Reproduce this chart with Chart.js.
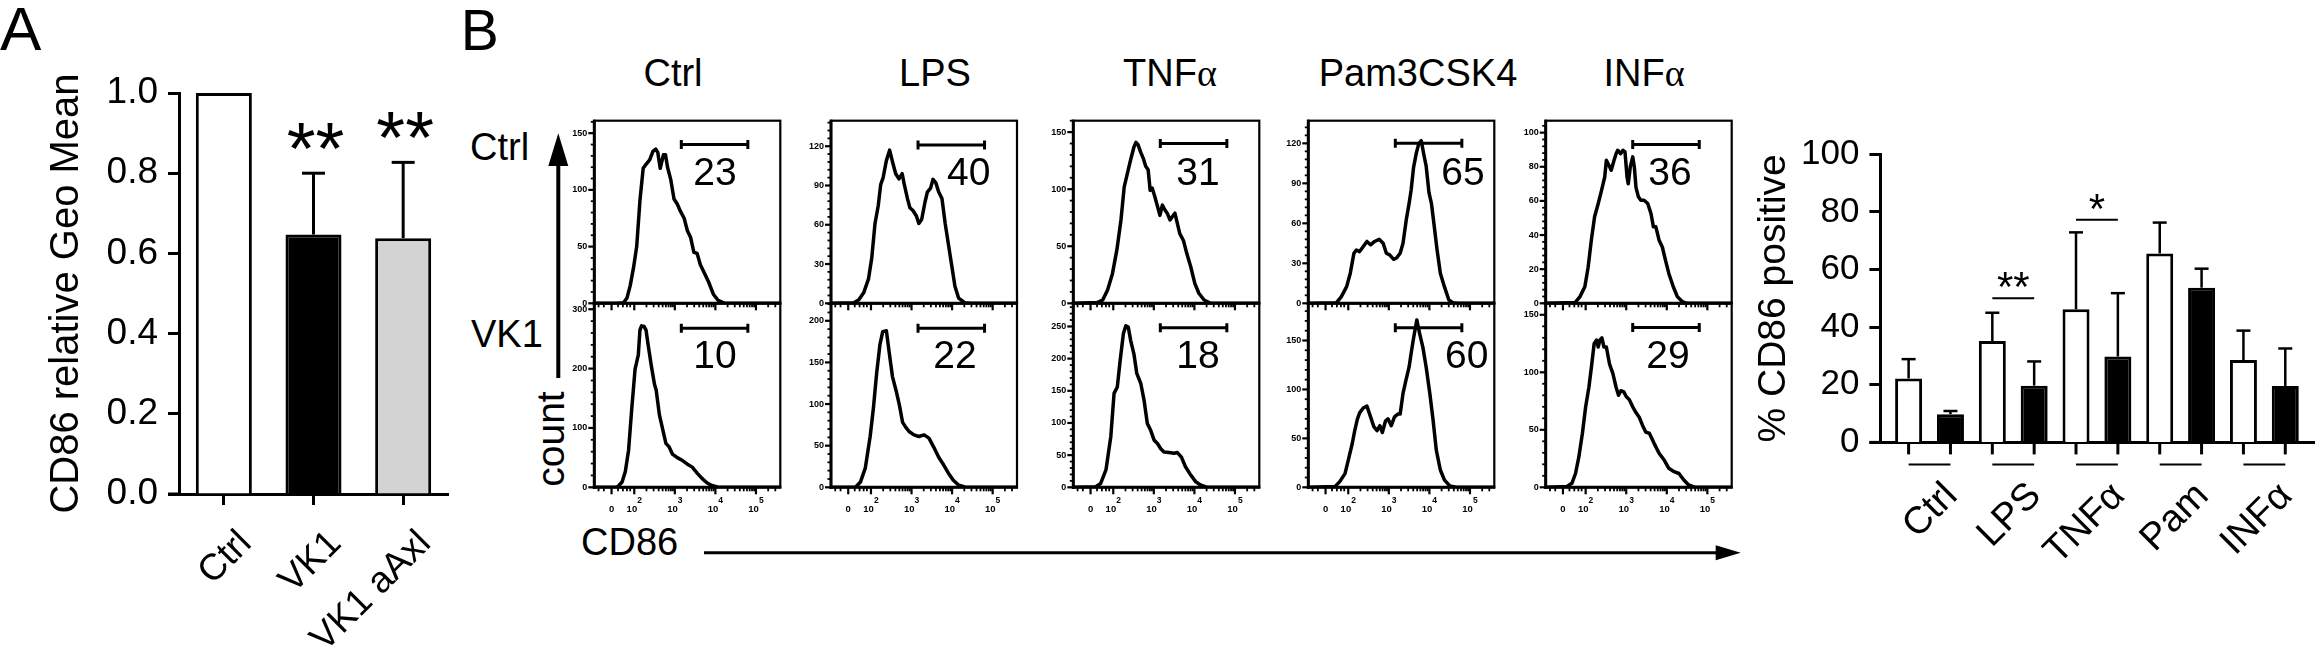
<!DOCTYPE html>
<html><head><meta charset="utf-8">
<script src="https://cdn.jsdelivr.net/npm/chart.js@4.4.1/dist/chart.umd.min.js"></script>
<style>
html,body{margin:0;padding:0;background:#fff;}
#root{position:relative;width:2315px;height:649px;overflow:hidden;background:#fff;font-family:'Liberation Sans',Arial,Helvetica,sans-serif;color:#000;}
canvas{position:absolute;}
.t{position:absolute;white-space:nowrap;line-height:1;}
.g{font-family:'Liberation Serif','Times New Roman',serif;}
</style></head><body><div id="root"></div>
<script>
// ---------- Panel A data ----------
const catsA = ['Ctrl', 'VK1', 'VK1 aAxl'];
const meanA = [1.0, 0.647, 0.638];
const sdA = [0, 0.153, 0.189];
const sigA = ['', '**', '**'];

// ---------- Panel B bar data ----------
const catsB = ['Ctrl', 'LPS', 'TNFα', 'Pam', 'INFα'];
const ctrlB = [22.2, 35.2, 46.2, 65.6, 28.6];
const ctrlErrB = [6.7, 9.8, 26.7, 10.7, 10.2];
const vk1B = [9.8, 19.7, 29.8, 53.7, 19.6];
const vk1ErrB = [1.1, 8.4, 22.0, 6.6, 13.0];
const sigB = [{group: 1, label: '**', y: 50}, {group: 2, label: '*', y: 77.3}];

// ---------- Panel B histograms (x = log10 CD86 display units, y = count) ----------
const stimuli = ['Ctrl', 'LPS', 'TNFα', 'Pam3CSK4', 'INFα'];
const rowNames = ['Ctrl', 'VK1'];
const gateRange = [3.16, 4.8];
const gatePctCtrl = [23, 40, 31, 65, 36];
const gatePctVK1 = [10, 22, 18, 60, 29];
const gateYCtrl = [140, 121, 140, 120, 93];
const gateYVK1 = [268, 191, 248, 163, 139];
const yMaxCtrl = [161, 139.5, 160, 137, 107];
const yMaxVK1 = [310, 221, 286, 188, 160];
const yStepCtrl = [50, 30, 50, 30, 20];
const yStepVK1 = [100, 50, 50, 50, 50];
const histXMajor = [1.44, 2, 3, 4, 5];
const histXLabels = ['0', '10', '10', '10', '10'];
const histXSup = ['', '2', '3', '4', '5'];

const histCtrlCtrl = [[1.0,0],[1.58,0],[1.74,0.6],[1.82,4.7],[1.90,15.6],[1.98,31],[2.06,50],[2.14,90.6],[2.22,119],[2.30,123],[2.38,126.5],[2.46,134],[2.53,136],[2.58,133],[2.64,119],[2.72,131],[2.77,131],[2.82,120],[2.90,109],[2.98,92],[3.06,87.5],[3.14,81],[3.23,75],[3.31,64],[3.39,58],[3.47,45],[3.55,44],[3.63,34],[3.71,28],[3.83,19],[3.95,8],[4.07,2.5],[4.23,0],[5.6,0]];
const histCtrlVK1 = [[1.0,0],[1.58,0],[1.70,8.9],[1.78,26.8],[1.86,62.5],[1.94,134],[2.02,199],[2.10,223],[2.14,265],[2.18,272],[2.24,271],[2.29,265],[2.34,241],[2.42,205],[2.50,173],[2.54,164],[2.62,122],[2.70,98],[2.78,74],[2.86,68],[2.94,56],[3.06,50],[3.19,45],[3.31,39],[3.43,34],[3.55,24],[3.67,15],[3.79,7.7],[3.91,3],[4.07,0],[5.6,0]];
const histLPSCtrl = [[1.0,0],[1.58,0.5],[1.70,2.7],[1.82,8],[1.94,18.7],[2.02,34.7],[2.10,61],[2.18,74.7],[2.24,90.7],[2.30,96],[2.38,109],[2.46,117],[2.54,107],[2.61,99],[2.69,95],[2.77,99],[2.82,91],[2.90,80],[2.96,73],[3.04,70.7],[3.12,66.7],[3.18,61],[3.25,64],[3.33,77],[3.39,85],[3.47,88],[3.53,94.7],[3.60,92],[3.67,85],[3.75,80],[3.83,61],[3.91,45],[3.99,29],[4.07,13],[4.16,4],[4.31,0.5],[4.47,0],[5.6,0]];
const histLPSVK1 = [[1.0,0],[1.62,0],[1.74,6.3],[1.86,23],[1.98,61],[2.06,95],[2.14,137],[2.22,171],[2.29,187],[2.38,188],[2.45,162],[2.53,133],[2.62,116],[2.70,99],[2.78,78],[2.86,72],[2.94,67],[3.06,63],[3.18,61],[3.31,63],[3.43,59],[3.55,48],[3.67,36],[3.79,27],[3.91,17],[4.03,8.4],[4.15,3],[4.35,0],[5.6,0]];
const histTNFCtrl = [[1.0,0],[1.60,0.6],[1.74,2.9],[1.86,11.7],[1.98,26],[2.09,47],[2.19,73],[2.27,102],[2.35,114],[2.43,126],[2.51,137],[2.56,141],[2.61,139],[2.68,132],[2.74,127],[2.80,120],[2.86,117],[2.91,99],[2.96,101],[3.02,94],[3.09,85],[3.15,77],[3.21,86],[3.27,82],[3.33,79],[3.40,73],[3.46,76],[3.52,79],[3.58,70],[3.64,61],[3.73,55],[3.81,44],[3.91,32],[4.01,17.5],[4.11,8.8],[4.24,2.9],[4.40,0],[5.6,0]];
const histTNFVK1 = [[1.0,0],[1.57,1],[1.69,6],[1.82,27],[1.94,79],[2.02,146],[2.10,156],[2.17,197],[2.25,239],[2.31,251],[2.37,249],[2.43,228],[2.51,207],[2.58,177],[2.68,161],[2.76,135],[2.84,99],[2.92,89],[3.01,73],[3.09,68],[3.17,60],[3.25,55],[3.37,54],[3.50,53],[3.58,54],[3.68,47],[3.78,32],[3.91,19],[4.03,8.8],[4.15,3.6],[4.32,0],[5.6,0]];
const histPamCtrl = [[1.0,0],[1.71,0.5],[1.83,5],[1.96,12.5],[2.05,22.6],[2.14,37.6],[2.20,40],[2.28,38.8],[2.37,42.6],[2.46,46.4],[2.55,43.9],[2.65,46.4],[2.76,48],[2.86,45],[2.94,37.6],[3.02,36.3],[3.12,33],[3.19,34],[3.28,37.6],[3.35,45],[3.43,62.7],[3.50,75],[3.55,85],[3.61,102],[3.68,113],[3.74,120],[3.80,122],[3.86,112],[3.92,103],[3.99,83],[4.05,75],[4.10,62.7],[4.19,40],[4.27,22.6],[4.37,12.5],[4.48,2.5],[4.58,0.5],[4.70,0],[5.6,0]];
const histPamVK1 = [[1.0,0],[1.67,0.7],[1.79,5.8],[1.92,14],[2.02,31],[2.10,45],[2.16,58],[2.22,69],[2.28,76],[2.37,81],[2.46,83],[2.55,72],[2.63,62],[2.71,58],[2.78,63],[2.84,56],[2.92,68],[2.98,70],[3.06,63],[3.14,72],[3.23,75],[3.28,75],[3.35,96],[3.42,109],[3.50,123],[3.55,137],[3.60,150],[3.66,164],[3.69,171],[3.76,157],[3.84,143],[3.92,123],[4.01,96],[4.09,69],[4.17,38],[4.27,17.7],[4.37,7.5],[4.50,1.4],[4.66,0],[5.6,0]];
const histINFCtrl = [[1.0,0],[1.74,0.4],[1.86,3.9],[1.98,9.7],[2.06,21],[2.14,37],[2.22,50.7],[2.31,58.5],[2.39,66],[2.47,74],[2.51,83.8],[2.57,81],[2.63,78],[2.70,83.8],[2.75,87.7],[2.79,89.7],[2.86,87.7],[2.92,89.7],[2.97,88.7],[3.02,74],[3.05,70],[3.10,79.9],[3.16,85.8],[3.20,79.9],[3.24,68],[3.30,62.4],[3.36,60.4],[3.44,60.4],[3.53,58.5],[3.61,52.6],[3.67,44.8],[3.73,44.8],[3.81,37],[3.89,33],[3.97,25],[4.05,17.5],[4.16,9.7],[4.26,3.9],[4.38,1],[4.50,0],[5.6,0]];
const histINFVK1 = [[1.0,0],[1.53,0.6],[1.66,3.5],[1.75,12],[1.83,26],[1.92,47],[2.00,70],[2.08,87],[2.14,104],[2.21,125],[2.27,128],[2.31,122],[2.35,128],[2.40,130],[2.45,122],[2.51,122],[2.59,107],[2.67,99],[2.75,87],[2.81,80],[2.87,84],[2.94,83],[3.00,79],[3.08,76],[3.16,70],[3.24,65],[3.32,61],[3.40,54],[3.48,48],[3.57,47],[3.69,38],[3.81,29.6],[3.93,24],[4.05,16.5],[4.18,13.6],[4.30,12],[4.42,6.4],[4.54,2],[4.70,0],[5.6,0]];

const histRows = [
  [histCtrlCtrl, histLPSCtrl, histTNFCtrl, histPamCtrl, histINFCtrl],
  [histCtrlVK1, histLPSVK1, histTNFVK1, histPamVK1, histINFVK1]
];

// ---------- layout (positions, not data) ----------
const LAY = {
  histLeft: [594.3, 831, 1073.3, 1308.3, 1545.7],
  histW: 186,
  rowTop: [120.7, 303.3],
  rowBottom: [303.3, 487.3],
  xMin: 1.015, xMax: 5.6,
  pctX: [[3.99, 4.41, 4.09, 4.83, 4.08], [3.99, 4.07, 4.09, 4.92, 4.03]],
  headerX: [673, 935, 1170, 1418, 1644]
};

const FONT = "'Liberation Sans', Arial, Helvetica, sans-serif";
Chart.defaults.font.family = FONT;
Chart.defaults.color = '#000';
Chart.defaults.animation = false;

const root = document.getElementById('root');
function makeCanvas(x, y, w, h) {
  const c = document.createElement('canvas');
  c.width = w; c.height = h;
  Object.assign(c.style, {left: x + 'px', top: y + 'px', width: w + 'px', height: h + 'px'});
  root.appendChild(c);
  return c;
}
function seg(ctx, x1, y1, x2, y2) { ctx.beginPath(); ctx.moveTo(x1, y1); ctx.lineTo(x2, y2); ctx.stroke(); }
function txt(s, x, base, size, align) {
  const d = document.createElement('div');
  d.className = 't'; d.innerHTML = s;
  d.style.fontSize = size + 'px';
  d.style.left = x + 'px';
  d.style.top = (base - 0.8465 * size) + 'px';
  const tx = align === 'center' ? '-50%' : align === 'right' ? '-100%' : '0';
  d.style.transform = 'translateX(' + tx + ')';
  root.appendChild(d);
}
function rtxt(s, cx, cy, size) {
  const d = document.createElement('div');
  d.className = 't'; d.innerHTML = s;
  d.style.fontSize = size + 'px';
  d.style.left = cx + 'px'; d.style.top = cy + 'px';
  d.style.transform = 'translate(-50%,-50%) rotate(-90deg)';
  root.appendChild(d);
}
const greek = s => s.replace('α', '<span class="g">α</span>');

// ---------- arrows ----------
root.insertAdjacentHTML('beforeend',
  '<svg style="position:absolute;left:0;top:0" width="2315" height="649">' +
  '<line x1="558.3" y1="164" x2="558.3" y2="378" stroke="#000" stroke-width="4"/>' +
  '<polygon points="558.3,133.3 548.3,166 568.3,166" fill="#000"/>' +
  '<line x1="704" y1="552.7" x2="1717" y2="552.7" stroke="#000" stroke-width="3"/>' +
  '<polygon points="1740.7,552.7 1715.7,545.2 1715.7,560.2" fill="#000"/>' +
  '</svg>');

// ---------- texts ----------
txt('A', 0, 50.4, 62);
txt('B', 460.7, 50, 57);
stimuli.forEach((s, i) => txt(greek(s), LAY.headerX[i], 86, 38, 'center'));
txt(rowNames[0], 470, 160, 38);
txt(rowNames[1], 471, 346.7, 38);
rtxt('count', 549.5, 438.7, 39);
txt('CD86', 581, 555, 38);

// ---------- Panel A ----------
const decorA = {
  id: 'decorA',
  afterDatasetsDraw(chart) {
    const {ctx, scales: {x, y}, chartArea: a} = chart;
    ctx.save();
    ctx.strokeStyle = '#000'; ctx.fillStyle = '#000'; ctx.lineWidth = 3;
    seg(ctx, a.left - 11, a.bottom, a.left, a.bottom);
    meanA.forEach((m, i) => {
      const px = x.getPixelForValue(i);
      const yt = y.getPixelForValue(m + sdA[i]);
      if (sdA[i] > 0) {
        seg(ctx, px, y.getPixelForValue(m), px, yt);
        seg(ctx, px - 11.5, yt, px + 11.5, yt);
      }
      if (sigA[i]) {
        ctx.font = '74px ' + FONT; ctx.textAlign = 'center'; ctx.textBaseline = 'alphabetic';
        ctx.fillText(sigA[i], px + 2, yt + 0.5);
      }
    });
    ctx.restore();
  }
};
new Chart(makeCanvas(0, 0, 470, 649), {
  type: 'bar',
  data: {labels: catsA, datasets: [{data: meanA, backgroundColor: ['#ffffff', '#000000', '#d3d3d3'], borderColor: '#000', borderWidth: 3, categoryPercentage: 1, barPercentage: 0.625}]},
  options: {
    responsive: false, animation: false, events: [],
    layout: {padding: {left: 20, right: 22, top: 93, bottom: 0}},
    plugins: {legend: {display: false}, tooltip: {enabled: false}},
    scales: {
      x: {
        offset: true,
        grid: {drawOnChartArea: false, offset: false, tickLength: 11, tickWidth: 3, tickColor: '#000'},
        border: {display: true, width: 3, color: '#000'},
        ticks: {font: {size: 37}, color: '#000', minRotation: 45, maxRotation: 45, autoSkip: false, padding: 17, labelOffset: 22},
        afterFit(s) { s.height = 155; s.paddingLeft = 0; s.paddingRight = 0; }
      },
      y: {
        min: 0, max: 1,
        grid: {drawOnChartArea: false, tickLength: 11, tickWidth: 3, tickColor: '#000'},
        border: {display: true, width: 3, color: '#000'},
        ticks: {stepSize: 0.2, font: {size: 37}, color: '#000', padding: 10, callback: v => Number(v).toFixed(1)},
        title: {display: true, text: 'CD86 relative Geo Mean', font: {size: 40}, color: '#000', padding: {top: 22.5, bottom: 0}},
        afterFit(s) { s.width = 159; s.paddingTop = 0; s.paddingBottom = 0; }
      }
    }
  },
  plugins: [decorA]
});

// ---------- Panel B bar chart ----------
const decorB = {
  id: 'decorB',
  afterDatasetsDraw(chart) {
    const {ctx, scales: {y}, chartArea: a} = chart;
    const m0 = chart.getDatasetMeta(0).data, m1 = chart.getDatasetMeta(1).data;
    ctx.save();
    ctx.strokeStyle = '#000'; ctx.fillStyle = '#000';
    ctx.lineWidth = 3;
    seg(ctx, a.left - 11, a.bottom, a.left, a.bottom);
    ctx.lineWidth = 2.5;
    [[ctrlB, ctrlErrB, m0], [vk1B, vk1ErrB, m1]].forEach(([vals, errs, els]) => {
      vals.forEach((v, i) => {
        const px = els[i].x, yt = y.getPixelForValue(v + errs[i]);
        seg(ctx, px, y.getPixelForValue(v), px, yt);
        seg(ctx, px - 7, yt, px + 7, yt);
      });
    });
    ctx.lineWidth = 3;
    catsB.forEach((c, i) => { [m0[i].x, m1[i].x].forEach(px => seg(ctx, px, a.bottom, px, a.bottom + 12)); });
    ctx.lineWidth = 2;
    catsB.forEach((c, i) => seg(ctx, m0[i].x, a.bottom + 22, m1[i].x, a.bottom + 22));
    sigB.forEach(s => {
      const py = y.getPixelForValue(s.y);
      const x0 = m0[s.group].x, x1 = m1[s.group].x;
      ctx.lineWidth = 2;
      seg(ctx, x0, py, x1, py);
      ctx.font = '42px ' + FONT; ctx.textAlign = 'center'; ctx.textBaseline = 'alphabetic';
      ctx.fillText(s.label, (x0 + x1) / 2, py + 3);
    });
    ctx.restore();
  }
};
new Chart(makeCanvas(1700, 0, 615, 649), {
  type: 'bar',
  data: {datasets: [
    {label: 'Ctrl', data: ctrlB.map((v, i) => ({x: i, y: v})), backgroundColor: '#ffffff', borderColor: '#000', borderWidth: 3},
    {label: 'VK1', data: vk1B.map((v, i) => ({x: i, y: v})), backgroundColor: '#000000', borderColor: '#000', borderWidth: 3}
  ]},
  options: {
    responsive: false, animation: false, events: [],
    datasets: {bar: {categoryPercentage: 1, barPercentage: 0.645}},
    layout: {padding: {left: 30, right: 0, top: 154.3, bottom: 0}},
    plugins: {legend: {display: false}, tooltip: {enabled: false}},
    scales: {
      x: {
        type: 'linear', min: -0.587, max: 4.605, offset: false,
        afterBuildTicks(s) { s.ticks = catsB.map((c, i) => ({value: i})); },
        grid: {drawOnChartArea: false, offset: false, tickLength: 12, tickColor: 'rgba(0,0,0,0)'},
        border: {display: true, width: 3, color: '#000'},
        ticks: {callback: (v, i) => catsB[i], font: {size: 38}, color: '#000', minRotation: 45, maxRotation: 45, autoSkip: false, padding: 19.5, labelOffset: 22},
        afterFit(s) { s.height = 206.6; s.paddingLeft = 0; s.paddingRight = 0; }
      },
      y: {
        min: 0, max: 100,
        grid: {drawOnChartArea: false, tickLength: 11, tickWidth: 3, tickColor: '#000'},
        border: {display: true, width: 3, color: '#000'},
        ticks: {stepSize: 20, font: {size: 35}, color: '#000', padding: 10},
        title: {display: true, text: '% CD86 positive', font: {size: 39}, color: '#000', padding: {top: 21.1, bottom: 0}},
        afterFit(s) { s.width = 150.4; s.paddingTop = 0; s.paddingBottom = 0; }
      }
    }
  },
  plugins: [decorB]
});

// ---------- Histograms ----------
const histXMinor = [1.12, 1.25, 1.6, 1.72, 1.82, 1.9];
[2, 3, 4, 5].forEach(d => { for (let m = 2; m <= 9; m++) histXMinor.push(d + Math.log10(m)); });

const histAxes = {
  id: 'histAxes',
  afterDraw(chart, args, o) {
    const {ctx, chartArea: a, scales: {x, y}} = chart;
    ctx.save();
    ctx.strokeStyle = '#000'; ctx.fillStyle = '#000'; ctx.lineCap = 'butt';
    ctx.lineWidth = 2.2;
    ctx.strokeRect(a.left, a.top, a.right - a.left, a.bottom - a.top);
    ctx.lineWidth = 3;
    seg(ctx, a.left, a.top - 1, a.left, a.bottom + 1.5);
    seg(ctx, a.left - 1.5, a.bottom, a.right + 1, a.bottom);
    // y ticks
    const minor = o.step / 5;
    ctx.font = 'bold 9px ' + FONT; ctx.textAlign = 'right'; ctx.textBaseline = 'middle';
    for (let i = 0; i * minor <= y.max + 1e-9; i++) {
      const v = i * minor, py = y.getPixelForValue(v), major = i % 5 === 0;
      ctx.lineWidth = major ? 2.2 : 1.8;
      seg(ctx, a.left - (major ? 6 : 3.5), py, a.left, py);
      if (major) ctx.fillText(String(Math.round(v)), a.left - 7, py);
    }
    // x ticks
    histXMinor.forEach(v => {
      if (v < x.min || v > x.max) return;
      const px = x.getPixelForValue(v);
      ctx.lineWidth = 1.8; seg(ctx, px, a.bottom, px, a.bottom + 4);
    });
    histXMajor.forEach(v => {
      const px = x.getPixelForValue(v);
      ctx.lineWidth = 2.2; seg(ctx, px, a.bottom, px, a.bottom + 7);
    });
    if (o.xLabels) {
      histXMajor.forEach((v, i) => {
        const px = x.getPixelForValue(v);
        ctx.font = 'bold 9.5px ' + FONT;
        const w1 = ctx.measureText(histXLabels[i]).width;
        ctx.font = 'bold 8.5px ' + FONT;
        const w2 = histXSup[i] ? ctx.measureText(histXSup[i]).width : 0;
        const left = px - (w1 + w2) / 2;
        ctx.textAlign = 'left'; ctx.textBaseline = 'alphabetic';
        ctx.font = 'bold 9.5px ' + FONT;
        ctx.fillText(histXLabels[i], left, a.bottom + 25);
        if (w2) { ctx.font = 'bold 8.5px ' + FONT; ctx.fillText(histXSup[i], left + w1, a.bottom + 16); }
      });
    }
    // gate percentage
    ctx.font = '39px ' + FONT; ctx.textAlign = 'center'; ctx.textBaseline = 'alphabetic';
    ctx.fillText(String(o.pct), x.getPixelForValue(o.labelX), a.top + 64.5);
    ctx.restore();
  }
};

function histChart(col, row) {
  const L = LAY.histLeft[col], top = LAY.rowTop[row], bot = LAY.rowBottom[row];
  const cx = Math.round(L - 50), cw = 250;
  const cy = row === 0 ? 105 : 290, ch = row === 0 ? 215 : 235;
  const padL = L - cx, padR = cx + cw - (L + LAY.histW), padT = top - cy, padB = cy + ch - bot;
  const h = histRows[row][col];
  const gy = row === 0 ? gateYCtrl[col] : gateYVK1[col];
  new Chart(makeCanvas(cx, cy, cw, ch), {
    type: 'line',
    data: {datasets: [
      {data: h.map(p => ({x: p[0], y: p[1]})), borderColor: '#000', borderWidth: 3.5, pointRadius: 0, tension: 0, fill: false, borderJoinStyle: 'round'},
      {data: [{x: gateRange[0], y: gy}, {x: gateRange[1], y: gy}], borderColor: '#000', borderWidth: 3, pointStyle: 'line', pointRotation: 90, pointRadius: 4.5, pointBorderWidth: 3, pointBorderColor: '#000', fill: false}
    ]},
    options: {
      responsive: false, animation: false, events: [],
      layout: {autoPadding: false, padding: {left: padL, right: padR, top: padT, bottom: padB}},
      plugins: {
        legend: {display: false}, tooltip: {enabled: false},
        histAxes: {
          step: row === 0 ? yStepCtrl[col] : yStepVK1[col],
          xLabels: row === 1,
          pct: row === 0 ? gatePctCtrl[col] : gatePctVK1[col],
          labelX: LAY.pctX[row][col]
        }
      },
      scales: {
        x: {type: 'linear', min: LAY.xMin, max: LAY.xMax, display: false},
        y: {type: 'linear', min: 0, max: row === 0 ? yMaxCtrl[col] : yMaxVK1[col], display: false}
      }
    },
    plugins: [histAxes]
  });
}
for (let c = 0; c < 5; c++) { histChart(c, 0); histChart(c, 1); }
</script>
</body></html>
